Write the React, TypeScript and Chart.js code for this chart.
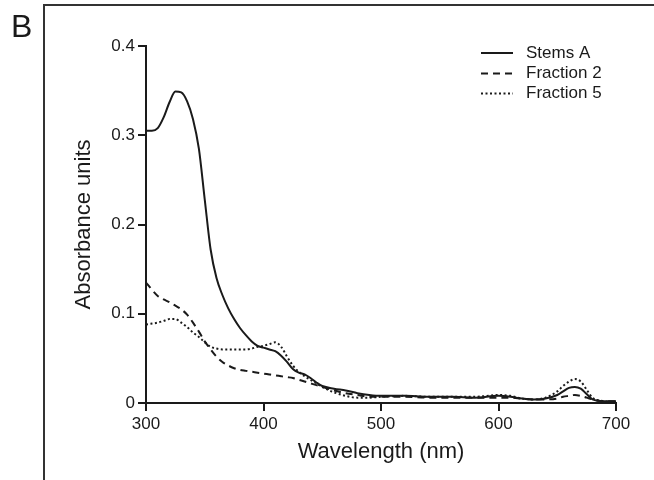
import React, { useEffect, useRef } from "react";
import { Chart, registerables } from "chart.js";

Chart.register(...registerables);

const wavelengths = [
  300, 305, 310, 315, 320, 325, 330, 335, 340, 345, 350, 355, 360, 365, 370, 375, 380, 385, 390, 395,
  400, 405, 410, 415, 420, 425, 430, 435, 440, 445, 450, 460, 470, 480, 490, 500, 520, 540, 560, 580,
  600, 610, 620, 630, 640, 650, 655, 660, 665, 670, 675, 680, 690, 700,
];

const stemsA = [
  0.305, 0.305, 0.308, 0.32, 0.337, 0.349, 0.348, 0.338, 0.318, 0.285, 0.228, 0.172, 0.14, 0.121, 0.106, 0.094, 0.084, 0.076, 0.069, 0.064,
  0.062, 0.06, 0.058, 0.053, 0.046, 0.038, 0.034, 0.032, 0.028, 0.023, 0.019, 0.016, 0.014, 0.011, 0.009, 0.008, 0.008, 0.007, 0.007, 0.006,
  0.008, 0.007, 0.005, 0.004, 0.005, 0.009, 0.013, 0.017, 0.018, 0.016, 0.01, 0.004, 0.002, 0.002,
];

const fraction2 = [
  0.135, 0.127, 0.12, 0.116, 0.113, 0.109, 0.105, 0.099, 0.09, 0.08, 0.069, 0.06, 0.052, 0.046, 0.042, 0.039, 0.037, 0.036, 0.035, 0.034,
  0.033, 0.032, 0.031, 0.03, 0.029, 0.028, 0.026, 0.024, 0.022, 0.02, 0.018, 0.014, 0.011, 0.009, 0.007, 0.007, 0.007, 0.006, 0.006, 0.006,
  0.006, 0.006, 0.005, 0.004, 0.004, 0.005, 0.007, 0.008, 0.009, 0.008, 0.006, 0.004, 0.002, 0.002,
];

const fraction5 = [
  0.088, 0.089, 0.09, 0.092, 0.094, 0.094, 0.09, 0.085, 0.079, 0.074, 0.068, 0.063, 0.061, 0.06, 0.06, 0.06, 0.06, 0.06, 0.061, 0.063,
  0.064, 0.066, 0.068, 0.063, 0.052, 0.042, 0.035, 0.03, 0.026, 0.022, 0.018, 0.012, 0.008, 0.006, 0.006, 0.007, 0.008, 0.007, 0.007, 0.007,
  0.009, 0.008, 0.005, 0.004, 0.006, 0.013, 0.019, 0.024, 0.027, 0.024, 0.015, 0.006, 0.002, 0.001,
];

const seriesLabels = ["Stems A", "Fraction 2", "Fraction 5"];
const seriesDashes: number[][] = [[], [7, 5], [2, 2.5]];
const xTicks = [300, 400, 500, 600, 700];
const yTicks = [0, 0.1, 0.2, 0.3, 0.4];

const FONT = "Arial, 'Liberation Sans', Helvetica, sans-serif";
const INK = "#1a1a1a";

const decorPlugin = {
  id: "decor",
  beforeDraw(chart: any) {
    const ctx = chart.ctx;
    ctx.save();
    ctx.fillStyle = "#fff";
    ctx.fillRect(0, 0, chart.width, chart.height);
    ctx.fillStyle = "#333";
    ctx.fillRect(43, 4, chart.width, 2);
    ctx.fillRect(43, 4, 2, chart.height);
    ctx.fillStyle = INK;
    ctx.font = `32px ${FONT}`;
    ctx.textBaseline = "alphabetic";
    ctx.textAlign = "left";
    ctx.fillText("B", 11, 37);
    ctx.restore();
  },
  afterDraw(chart: any) {
    const ctx = chart.ctx;
    ctx.save();
    const rows = [53, 73.5, 93.5];
    chart.data.datasets.forEach((ds: any, i: number) => {
      const y = rows[i];
      ctx.strokeStyle = INK;
      ctx.lineWidth = 2;
      ctx.setLineDash(ds.borderDash || []);
      ctx.beginPath();
      ctx.moveTo(481, y);
      ctx.lineTo(513, y);
      ctx.stroke();
      ctx.setLineDash([]);
      ctx.fillStyle = INK;
      ctx.font = `17px ${FONT}`;
      ctx.textBaseline = "middle";
      ctx.textAlign = "left";
      ctx.fillText(ds.label, 526, y);
    });
    ctx.restore();
  },
};

export default function App() {
  const ref = useRef<HTMLCanvasElement>(null);

  useEffect(() => {
    document.body.style.margin = "0";
    const canvas = ref.current;
    if (!canvas) return;
    const series = [stemsA, fraction2, fraction5];
    const chart = new Chart(canvas, {
      type: "line",
      data: {
        datasets: series.map((vals, i) => ({
          label: seriesLabels[i],
          data: wavelengths.map((w, j) => ({ x: w, y: vals[j] })),
          borderColor: INK,
          borderWidth: 2,
          borderDash: seriesDashes[i],
          pointRadius: 0,
          fill: false,
          cubicInterpolationMode: "monotone" as const,
        })),
      },
      options: {
        responsive: false,
        animation: false,
        layout: { padding: { left: 71, right: 38, top: 46, bottom: 15 } },
        plugins: { legend: { display: false }, tooltip: { enabled: false } },
        scales: {
          x: {
            type: "linear",
            min: 300,
            max: 700,
            afterFit: (s: any) => {
              s.height = 62;
            },
            afterBuildTicks: (s: any) => {
              s.ticks = xTicks.map((v) => ({ value: v }));
            },
            ticks: {
              color: INK,
              font: { family: FONT, size: 17 },
              padding: 3,
              maxRotation: 0,
            },
            grid: {
              drawOnChartArea: false,
              drawTicks: true,
              tickLength: 8,
              color: INK,
              lineWidth: 2,
            },
            border: { display: true, color: INK, width: 2 },
            title: {
              display: true,
              text: "Wavelength (nm)",
              color: INK,
              font: { family: FONT, size: 22 },
              padding: 0,
            },
          },
          y: {
            type: "linear",
            min: 0,
            max: 0.4,
            afterFit: (s: any) => {
              s.width = 75;
            },
            afterBuildTicks: (s: any) => {
              s.ticks = yTicks.map((v) => ({ value: v }));
            },
            ticks: {
              color: INK,
              font: { family: FONT, size: 17 },
              padding: 3,
              callback: (v: any) => (Number(v) === 0 ? "0" : Number(v).toFixed(1)),
            },
            grid: {
              drawOnChartArea: false,
              drawTicks: true,
              tickLength: 8,
              color: INK,
              lineWidth: 2,
            },
            border: { display: true, color: INK, width: 2 },
            title: {
              display: true,
              text: "Absorbance units",
              color: INK,
              font: { family: FONT, size: 22 },
              padding: 0,
            },
          },
        },
      },
      plugins: [decorPlugin],
    });
    return () => chart.destroy();
  }, []);

  return (
    <div style={{ position: "fixed", left: 0, top: 0, width: 654, height: 480, background: "#fff" }}>
      <canvas ref={ref} width={654} height={480} style={{ display: "block", width: 654, height: 480 }} />
    </div>
  );
}
